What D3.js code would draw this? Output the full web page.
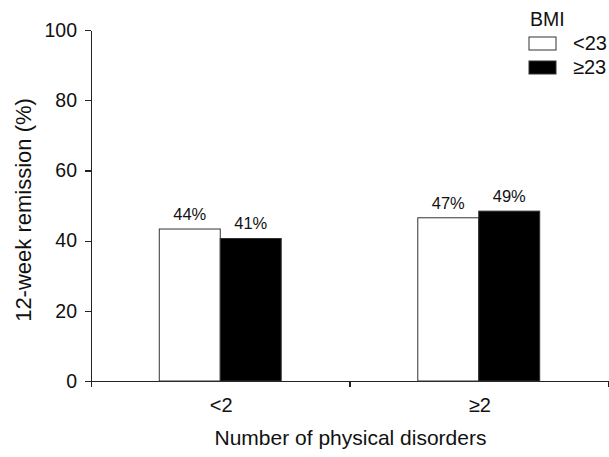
<!DOCTYPE html>
<html>
  <head>
    <meta charset="utf-8">
    <script src="https://d3js.org/d3.v7.min.js"></script>
    <style>
     body { margin: 0; background: #fff; }
     text { font-family: Arial, "Liberation Sans", sans-serif; fill: #111; }
     .axis path, .axis line { stroke: #222; stroke-width: 1.2; shape-rendering: crispEdges; }
    </style>
  </head>
  <body>
    <svg id="chart"></svg>
    <script>
     // data
     var groups = ["<2", "≥2"];
     var series = ["<23", "≥23"];
     var lowBmi = [43.3, 46.5];
     var highBmi = [40.6, 48.4];
     var lowLabels = ["44%", "47%"];
     var highLabels = ["41%", "49%"];
     var yTicks = [0, 20, 40, 60, 80, 100];
     var fills = ["#fff", "#000"];

     var W = 609, H = 457;
     var margin = {top: 30, right: 1, bottom: 76, left: 91}
       , width = W - margin.left - margin.right
       , height = H - margin.top - margin.bottom;

     var svg = d3.select("#chart").attr("width", W).attr("height", H)
		 .append("g")
		 .attr("transform", "translate(" + margin.left + "," + margin.top + ")");

     var x = d3.scaleBand().domain(groups).range([0, width]);
     var xSub = d3.scaleBand().domain(series).range([0, x.bandwidth()]).paddingOuter(1.12);
     var y = d3.scaleLinear().domain([0, 100]).range([height, 0]);

     // y axis
     svg.append("g")
	.attr("class", "axis")
	.call(d3.axisLeft(y).tickValues(yTicks).tickSize(6).tickPadding(8).tickSizeOuter(0))
	.call(function(g) {
	    g.selectAll("text").style("font-size", "19.5px").attr("fill", "#111");
	});

     // x axis: ticks at band boundaries
     var xb = d3.scaleLinear().domain([0, groups.length]).range([0, width]);
     svg.append("g")
	.attr("class", "axis")
	.attr("transform", "translate(0," + height + ")")
	.call(d3.axisBottom(xb).tickValues(d3.range(groups.length + 1)).tickFormat("").tickSize(6).tickSizeOuter(0));

     svg.selectAll(".xlab")
	.data(groups)
	.enter().append("text")
	.attr("x", function(d) { return x(d) + x.bandwidth() / 2 + 1; })
	.attr("y", height + 31)
	.attr("text-anchor", "middle")
	.style("font-size", "20px")
	.text(function(d) { return d; });

     var rows = groups.map(function(g, i) {
	 return {group: g, vals: [
	     {s: series[0], v: lowBmi[i], lab: lowLabels[i]},
	     {s: series[1], v: highBmi[i], lab: highLabels[i]}]};
     });

     var gg = svg.selectAll(".grp")
		 .data(rows)
		 .enter().append("g")
		 .attr("transform", function(d) { return "translate(" + x(d.group) + ",0)"; });

     gg.selectAll("rect")
       .data(function(d) { return d.vals; })
       .enter().append("rect")
       .attr("x", function(d) { return xSub(d.s); })
       .attr("y", function(d) { return y(d.v); })
       .attr("width", xSub.bandwidth())
       .attr("height", function(d) { return height - y(d.v); })
       .attr("fill", function(d, i) { return fills[i]; })
       .attr("stroke", "#333")
       .attr("stroke-width", 1);

     gg.selectAll(".vlab")
       .data(function(d) { return d.vals; })
       .enter().append("text")
       .attr("x", function(d) { return xSub(d.s) + xSub.bandwidth() / 2; })
       .attr("y", function(d) { return y(d.v) - 9; })
       .attr("text-anchor", "middle")
       .style("font-size", "16.5px")
       .text(function(d) { return d.lab; });

     // axis titles
     svg.append("text")
	.attr("x", width / 2 + 1)
	.attr("y", height + 64)
	.attr("text-anchor", "middle")
	.style("font-size", "21px")
	.text("Number of physical disorders");
     svg.append("text")
	.attr("transform", "rotate(-90)")
	.attr("x", -180)
	.attr("y", -60)
	.attr("text-anchor", "middle")
	.style("font-size", "22px")
	.text("12-week remission (%)");

     // legend
     var leg = d3.select("#chart").append("g").attr("transform", "translate(529,0)");
     leg.append("text").attr("x", 1).attr("y", 26).style("font-size", "19.5px").text("BMI");
     var li = leg.selectAll(".li")
		 .data(series)
		 .enter().append("g")
		 .attr("transform", function(d, i) { return "translate(0," + (37 + i * 24) + ")"; });
     li.append("rect")
       .attr("width", 27).attr("height", 13)
       .attr("fill", function(d, i) { return fills[i]; })
       .attr("stroke", "#333");
     li.append("text")
       .attr("x", 44).attr("y", 13)
       .style("font-size", "20px")
       .text(function(d) { return d; });
    </script>
  </body>
</html>
